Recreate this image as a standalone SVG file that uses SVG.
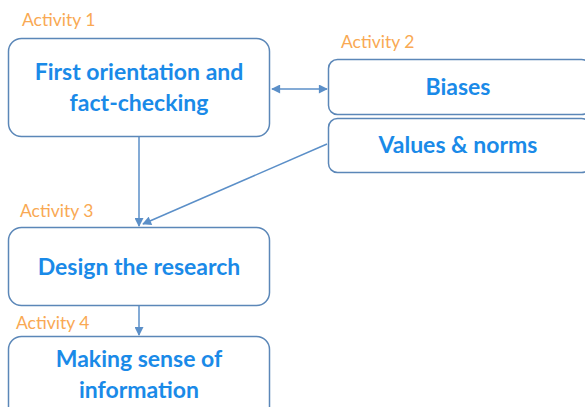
<svg xmlns="http://www.w3.org/2000/svg" width="585" height="407" viewBox="0 0 585 407">
<style>
.box{fill:#fff;stroke:#5B87B8;stroke-width:1.5}
.t{font-family:Lato,"Open Sans",sans-serif;font-weight:bold;font-size:23px;fill:#1A8AE8;text-anchor:middle}
.lab{font-family:Lato,"Open Sans",sans-serif;font-size:17.5px;fill:#F9A953}
.c{stroke:#5B8FC8;stroke-width:1.5;fill:none}
</style>
<defs>
<marker id="ah" viewBox="0 0 10 10" refX="9" refY="5" markerWidth="10" markerHeight="9" markerUnits="userSpaceOnUse" orient="auto-start-reverse">
<path d="M0,0 L10,5 L0,10 z" fill="#5B8FC8"/>
</marker>
</defs>
<g id="connectors">
<line class="c" x1="272" y1="89" x2="327" y2="89" marker-start="url(#ah)" marker-end="url(#ah)"/>
<line class="c" x1="139" y1="137" x2="139" y2="226" marker-end="url(#ah)"/>
<line class="c" x1="327" y1="144" x2="143" y2="224" marker-end="url(#ah)"/>
<line class="c" x1="139" y1="306" x2="139" y2="335" marker-end="url(#ah)"/>
</g>
<g id="activity1">
<text class="lab" x="22" y="26">Activity 1</text>
<rect class="box" x="8.5" y="38.5" width="261" height="98" rx="13"/>
<text class="t" x="139" y="80">First orientation and</text>
<text class="t" x="139" y="111">fact-checking</text>
</g>
<g id="activity2">
<text class="lab" x="341" y="48">Activity 2</text>
<g id="biases">
<rect class="box" x="328.5" y="59.5" width="262" height="55" rx="9"/>
<text class="t" x="458" y="95">Biases</text>
</g>
<g id="values">
<rect class="box" x="328.5" y="118.5" width="262" height="54" rx="9"/>
<text class="t" x="458" y="153">Values &amp; norms</text>
</g>
</g>
<g id="activity3">
<text class="lab" x="20" y="217">Activity 3</text>
<rect class="box" x="8.5" y="227.5" width="261" height="78" rx="13"/>
<text class="t" x="139" y="275">Design the research</text>
</g>
<g id="activity4">
<text class="lab" x="16" y="329">Activity 4</text>
<rect class="box" x="8.5" y="336.5" width="261" height="90" rx="13"/>
<text class="t" x="139" y="367">Making sense of</text>
<text class="t" x="139" y="398">information</text>
</g>
</svg>
